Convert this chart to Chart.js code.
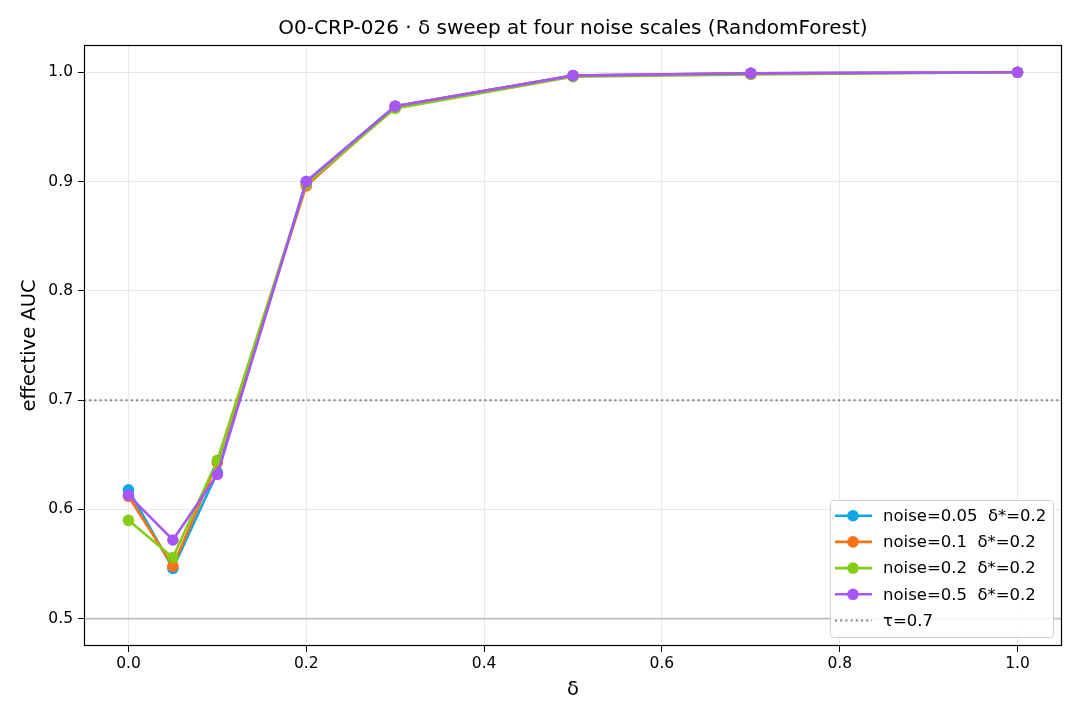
<!DOCTYPE html>
<html>
<head>
<meta charset="utf-8">
<script src="https://cdn.jsdelivr.net/npm/chart.js@4/dist/chart.umd.min.js"></script>
<style>
  html, body { margin: 0; padding: 0; background: #fff; }
  #wrap { width: 1080px; height: 720px; }
</style>
</head>
<body>
<div id="wrap"><canvas id="c" width="1080" height="720"></canvas></div>
<script>
/* =========================
   DATA
========================= */
const deltas = [0, 0.05, 0.1, 0.2, 0.3, 0.5, 0.7, 1.0];
const auc005 = [0.618, 0.546, 0.634, 0.900, 0.969, 0.997, 0.999, 1.000];
const auc01  = [0.612, 0.548, 0.643, 0.896, 0.969, 0.997, 0.999, 1.000];
const auc02  = [0.590, 0.556, 0.645, 0.898, 0.967, 0.996, 0.998, 1.000];
const auc05  = [0.613, 0.572, 0.632, 0.900, 0.969, 0.997, 0.999, 1.000];
const seriesLabels = [
  "noise=0.05  δ*=0.2",
  "noise=0.1  δ*=0.2",
  "noise=0.2  δ*=0.2",
  "noise=0.5  δ*=0.2"
];
const tau = 0.7;
const baseline = 0.5;
const xTicks = [0, 0.2, 0.4, 0.6, 0.8, 1.0];
const yTicks = [0.5, 0.6, 0.7, 0.8, 0.9, 1.0];

const colors = ["#0ea5e9", "#f97316", "#84cc16", "#a855f7"];
const FONT = "'DejaVu Sans', sans-serif";

function toPoints(ys) {
  return deltas.map((x, i) => ({ x: x, y: ys[i] }));
}

const allSeries = [auc005, auc01, auc02, auc05];
const datasets = allSeries.map((ys, i) => ({
  label: seriesLabels[i],
  data: toPoints(ys),
  borderColor: colors[i],
  backgroundColor: colors[i],
  borderWidth: 2.6,
  pointRadius: 5.8,
  pointHoverRadius: 5.8,
  pointBorderWidth: 0,
  tension: 0,
  order: 4 - i
}));

/* =========================
   PLUGINS
========================= */
const refLines = {
  id: "refLines",
  beforeDatasetsDraw(chart) {
    const { ctx, chartArea: a, scales } = chart;
    ctx.save();
    // baseline 0.5
    let y = scales.y.getPixelForValue(baseline);
    ctx.strokeStyle = "#bdbdbd";
    ctx.lineWidth = 1.8;
    ctx.beginPath(); ctx.moveTo(a.left, y); ctx.lineTo(a.right, y); ctx.stroke();
    // tau dotted
    y = scales.y.getPixelForValue(tau);
    ctx.strokeStyle = "#808080";
    ctx.lineWidth = 2;
    ctx.setLineDash([2, 3.2]);
    ctx.beginPath(); ctx.moveTo(a.left, y); ctx.lineTo(a.right, y); ctx.stroke();
    ctx.restore();
  },
  afterDraw(chart) {
    const { ctx, chartArea: a } = chart;
    ctx.save();
    // frame
    ctx.strokeStyle = "#000";
    ctx.lineWidth = 1.2;
    ctx.strokeRect(a.left + 0.5, a.top + 0.5, a.right - a.left - 1, a.bottom - a.top - 1);

    // title and axis titles
    ctx.fillStyle = "#000";
    ctx.textAlign = "center";
    ctx.textBaseline = "middle";
    ctx.font = "20px " + FONT;
    ctx.fillText("O0-CRP-026 · δ sweep at four noise scales (RandomForest)", (a.left + a.right) / 2, 29);
    ctx.font = "19.5px " + FONT;
    ctx.fillText("δ", (a.left + a.right) / 2, 690);
    ctx.save();
    ctx.translate(30, (a.top + a.bottom) / 2);
    ctx.rotate(-Math.PI / 2);
    ctx.fillText("effective AUC", 0, 0);
    ctx.restore();

    // legend
    const bx = 830, by = 500, bw = 223, bh = 137;
    ctx.fillStyle = "rgba(255,255,255,0.85)";
    ctx.strokeStyle = "#d0d0d0";
    ctx.lineWidth = 1;
    ctx.beginPath();
    ctx.roundRect(bx + 0.5, by + 0.5, bw, bh, 3);
    ctx.fill(); ctx.stroke();
    ctx.font = "16.5px " + FONT;
    ctx.textAlign = "left";
    const rowH = 26.2;
    const items = seriesLabels.concat(["τ=0.7"]);
    items.forEach((lab, i) => {
      const yy = by + 15.7 + i * rowH;
      if (i < 4) {
        ctx.strokeStyle = colors[i];
        ctx.lineWidth = 2.6;
        ctx.beginPath(); ctx.moveTo(bx + 5, yy); ctx.lineTo(bx + 42, yy); ctx.stroke();
        ctx.fillStyle = colors[i];
        ctx.beginPath(); ctx.arc(bx + 23, yy, 5.8, 0, Math.PI * 2); ctx.fill();
      } else {
        ctx.strokeStyle = "#808080";
        ctx.lineWidth = 2;
        ctx.setLineDash([2, 3.2]);
        ctx.beginPath(); ctx.moveTo(bx + 5, yy); ctx.lineTo(bx + 42, yy); ctx.stroke();
        ctx.setLineDash([]);
      }
      ctx.fillStyle = "#000";
      ctx.fillText(lab, bx + 53, yy + 1);
    });
    ctx.restore();
  }
};

/* =========================
   CHART
========================= */
new Chart(document.getElementById("c"), {
  type: "line",
  data: { datasets: datasets },
  options: {
    responsive: false,
    animation: false,
    devicePixelRatio: 1,
    layout: { padding: { top: 45, right: 18, left: 0, bottom: 0 } },
    plugins: {
      legend: { display: false },
      title: { display: false },
      tooltip: { enabled: false }
    },
    scales: {
      x: {
        type: "linear",
        min: -0.05,
        max: 1.05,
        afterBuildTicks(scale) { scale.ticks = xTicks.map(v => ({ value: v })); },
        afterFit(scale) { scale.height = 74; },
        ticks: {
          color: "#000",
          font: { family: FONT, size: 15.5 },
          padding: 3,
          callback: v => v.toFixed(1),
          maxRotation: 0
        },
        grid: { color: "#e8e8e8", lineWidth: 1, tickLength: 6, tickColor: "#000", drawTicks: true },
        border: { display: false }
      },
      y: {
        type: "linear",
        min: 0.475,
        max: 1.025,
        afterBuildTicks(scale) { scale.ticks = yTicks.map(v => ({ value: v })); },
        afterFit(scale) { scale.width = 84; },
        ticks: {
          color: "#000",
          font: { family: FONT, size: 15.5 },
          padding: 5,
          callback: v => v.toFixed(1)
        },
        grid: { color: "#e8e8e8", lineWidth: 1, tickLength: 6, tickColor: "#000", drawTicks: true },
        border: { display: false }
      }
    }
  },
  plugins: [refLines]
});
</script>
</body>
</html>
